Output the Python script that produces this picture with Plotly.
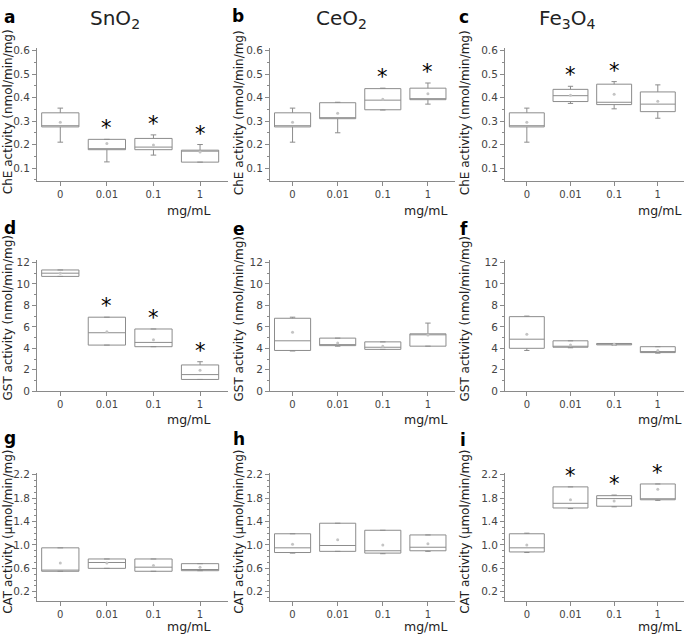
import plotly.graph_objects as go

W, H = 685, 640

categories = ["0", "0.01", "0.1", "1"]
materials = ["SnO<sub>2</sub>", "CeO<sub>2</sub>", "Fe<sub>3</sub>O<sub>4</sub>"]
letters = ["a", "b", "c", "d", "e", "f", "g", "h", "i"]
y_titles = ["ChE activity (nmol/min/mg)", "GST activity (nmol/min/mg)",
            "CAT activity (µmol/min/mg)"]
x_unit = "mg/mL"

# ---- panel a: ChE, SnO2
a_low = [0.21, 0.126, 0.155, 0.125]
a_q1 = [0.275, 0.178, 0.178, 0.125]
a_med = [0.28, 0.181, 0.189, 0.172]
a_q3 = [0.335, 0.222, 0.226, 0.176]
a_high = [0.355, 0.222, 0.241, 0.200]
a_mean = [0.295, 0.204, 0.198, 0.168]
a_star = [0, 1, 1, 1]
# ---- panel b: ChE, CeO2
b_low = [0.21, 0.25, 0.347, 0.372]
b_q1 = [0.275, 0.31, 0.348, 0.391]
b_med = [0.28, 0.313, 0.389, 0.394]
b_q3 = [0.335, 0.378, 0.438, 0.44]
b_high = [0.355, 0.38, 0.44, 0.462]
b_mean = [0.295, 0.333, 0.393, 0.416]
b_star = [0, 0, 1, 1]
# ---- panel c: ChE, Fe3O4
c_low = [0.21, 0.375, 0.352, 0.312]
c_q1 = [0.275, 0.383, 0.37, 0.34]
c_med = [0.28, 0.408, 0.38, 0.372]
c_q3 = [0.335, 0.435, 0.457, 0.424]
c_high = [0.355, 0.448, 0.468, 0.454]
c_mean = [0.295, 0.41, 0.414, 0.384]
c_star = [0, 1, 1, 0]
# ---- panel d: GST, SnO2
d_low = [10.7, 4.3, 4.15, 1.1]
d_q1 = [10.7, 4.3, 4.15, 1.1]
d_med = [11.0, 5.45, 4.55, 1.55]
d_q3 = [11.3, 6.9, 5.8, 2.45]
d_high = [11.3, 6.9, 5.8, 2.75]
d_mean = [11.0, 5.55, 4.8, 1.95]
d_star = [0, 1, 1, 1]
# ---- panel e: GST, CeO2
e_low = [3.75, 4.2, 3.9, 4.2]
e_q1 = [3.8, 4.25, 3.9, 4.2]
e_med = [4.7, 4.25, 4.1, 5.3]
e_q3 = [6.8, 4.95, 4.6, 5.35]
e_high = [6.9, 4.95, 4.6, 6.35]
e_mean = [5.5, 4.5, 4.2, 5.25]
e_star = [0, 0, 0, 0]
# ---- panel f: GST, Fe3O4
f_low = [3.8, 4.05, 4.3, 3.55]
f_q1 = [4.0, 4.1, 4.32, 3.6]
f_med = [4.85, 4.15, 4.4, 3.6]
f_q3 = [6.95, 4.7, 4.45, 4.15]
f_high = [7.0, 4.7, 4.45, 4.15]
f_mean = [5.3, 4.3, 4.38, 3.8]
f_star = [0, 0, 0, 0]
# ---- panel g: CAT, SnO2
g_low = [0.55, 0.6, 0.55, 0.56]
g_q1 = [0.55, 0.6, 0.55, 0.56]
g_med = [0.57, 0.70, 0.62, 0.58]
g_q3 = [0.95, 0.76, 0.76, 0.68]
g_high = [0.95, 0.76, 0.76, 0.68]
g_mean = [0.69, 0.69, 0.65, 0.62]
g_star = [0, 0, 0, 0]
# ---- panel h: CAT, CeO2
h_low = [0.86, 0.89, 0.85, 0.89]
h_q1 = [0.87, 0.89, 0.86, 0.9]
h_med = [0.95, 0.99, 0.9, 0.96]
h_q3 = [1.19, 1.37, 1.25, 1.17]
h_high = [1.19, 1.37, 1.25, 1.17]
h_mean = [1.01, 1.09, 1.0, 1.02]
h_star = [0, 0, 0, 0]
# ---- panel i: CAT, Fe3O4
i_low = [0.87, 1.62, 1.65, 1.76]
i_q1 = [0.88, 1.63, 1.66, 1.77]
i_med = [0.95, 1.71, 1.79, 1.78]
i_q3 = [1.19, 1.99, 1.84, 2.04]
i_high = [1.2, 1.99, 1.85, 2.04]
i_mean = [1.0, 1.77, 1.75, 1.95]
i_star = [0, 1, 1, 1]

panels = [
    (a_low, a_q1, a_med, a_q3, a_high, a_mean, a_star),
    (b_low, b_q1, b_med, b_q3, b_high, b_mean, b_star),
    (c_low, c_q1, c_med, c_q3, c_high, c_mean, c_star),
    (d_low, d_q1, d_med, d_q3, d_high, d_mean, d_star),
    (e_low, e_q1, e_med, e_q3, e_high, e_mean, e_star),
    (f_low, f_q1, f_med, f_q3, f_high, f_mean, f_star),
    (g_low, g_q1, g_med, g_q3, g_high, g_mean, g_star),
    (h_low, h_q1, h_med, h_q3, h_high, h_mean, h_star),
    (i_low, i_q1, i_med, i_q3, i_high, i_mean, i_star),
]

# layout geometry (pixels)
col_px = [(37, 228), (270, 455), (505, 684)]
row_px = [(44, 179), (259, 393), (476, 606)]
row_range = [[0.045, 0.61], [0, 12.27], [0.05, 2.23]]
row_ticks = [dict(tick0=0, dtick=0.1, minor=0.05, fmt=".1f"),
             dict(tick0=0, dtick=2, minor=1, fmt="d"),
             dict(tick0=0.2, dtick=0.4, minor=0.1, fmt=".1f")]
letter_pos = [[(2, 12), (230, 11), (457, 12)],
              [(2, 227), (231, 228), (458, 228)],
              [(2, 441), (231, 442), (458, 443)]]
ytitle_x = [8, 239, 465]
ytitle_y = [109, 319, 536]
unit_x = [188, 425, 659]
unit_y = [209, 422, 632]
title_x = [115, 341, 567]

FONT = "DejaVu Sans"
AX_COL = "#8a8a8a"
BOX_COL = "#8c8c8c"


def px2x(p):
    return p / W


def px2y(p):
    return 1 - p / H


fig = go.Figure()
annotations = []
xpos = list(range(len(categories)))

for k, (low, q1, med, q3, high, mean, star) in enumerate(panels):
    r, c = divmod(k, 3)
    ax = "" if k == 0 else str(k + 1)
    fig.add_trace(go.Box(
        x=xpos, q1=q1, median=med, q3=q3, lowerfence=low, upperfence=high,
        width=0.8, whiskerwidth=0.15, fillcolor="white",
        line=dict(color=BOX_COL, width=1), boxpoints=False,
        xaxis="x" + ax, yaxis="y" + ax, showlegend=False, hoverinfo="skip"))
    fig.add_trace(go.Scatter(
        x=xpos, y=mean, mode="markers",
        marker=dict(size=3, color="#c4c4c4"),
        xaxis="x" + ax, yaxis="y" + ax, showlegend=False, hoverinfo="skip"))
    for j, s in enumerate(star):
        if s:
            annotations.append(dict(
                x=xpos[j], y=high[j], xref="x" + ax, yref="y" + ax,
                text="*", showarrow=False, yanchor="bottom", yshift=-3,
                font=dict(family=FONT, size=21, color="black")))
    t = row_ticks[r]
    fig.layout["xaxis" + ax] = dict(
        domain=[px2x(col_px[c][0]), px2x(col_px[c][1])],
        anchor="y" + ax, range=[-0.5, 3.6],
        tickmode="array", tickvals=xpos, ticktext=categories,
        ticks="outside", ticklen=4, tickcolor=AX_COL,
        showline=True, linecolor=AX_COL, linewidth=1,
        showgrid=False, zeroline=False, fixedrange=True,
        tickfont=dict(family=FONT, size=10, color="#444"))
    fig.layout["yaxis" + ax] = dict(
        domain=[px2y(row_px[r][1]), px2y(row_px[r][0])],
        anchor="x" + ax, range=row_range[r],
        tick0=t["tick0"], dtick=t["dtick"], tickformat=t["fmt"],
        ticks="outside", ticklen=4, tickcolor=AX_COL,
        minor=dict(ticks="outside", ticklen=2, dtick=t["minor"], tick0=0,
                   tickcolor=AX_COL),
        showline=True, linecolor=AX_COL, linewidth=1,
        showgrid=False, zeroline=False, fixedrange=True,
        tickfont=dict(family=FONT, size=10.5, color="#444"))

    lx, ly = letter_pos[r][c]
    annotations.append(dict(
        x=px2x(lx), y=px2y(ly), xref="paper", yref="paper",
        xanchor="left", yanchor="middle",
        text="<b>%s</b>" % letters[k], showarrow=False,
        font=dict(family=FONT, size=17, color="black")))
    annotations.append(dict(
        x=px2x(ytitle_x[c]), y=px2y(ytitle_y[r]),
        xref="paper", yref="paper", xanchor="center", yanchor="middle",
        text=y_titles[r], textangle=-90, showarrow=False,
        font=dict(family=FONT, size=12, color="#222")))
    annotations.append(dict(
        x=px2x(unit_x[c]), y=px2y(unit_y[r]),
        xref="paper", yref="paper", xanchor="center", yanchor="middle",
        text=x_unit, showarrow=False,
        font=dict(family=FONT, size=12.5, color="#222")))

for c in range(3):
    annotations.append(dict(
        x=px2x(title_x[c]), y=px2y(14),
        xref="paper", yref="paper", xanchor="center", yanchor="middle",
        text=materials[c], showarrow=False,
        font=dict(family=FONT, size=20, color="#222")))

fig.update_layout(
    width=W, height=H, margin=dict(l=0, r=0, t=0, b=0),
    paper_bgcolor="white", plot_bgcolor="white",
    annotations=annotations, showlegend=False)

fig.write_html("out.html", config={"displayModeBar": False},
               post_script="document.body.style.margin='0';")
